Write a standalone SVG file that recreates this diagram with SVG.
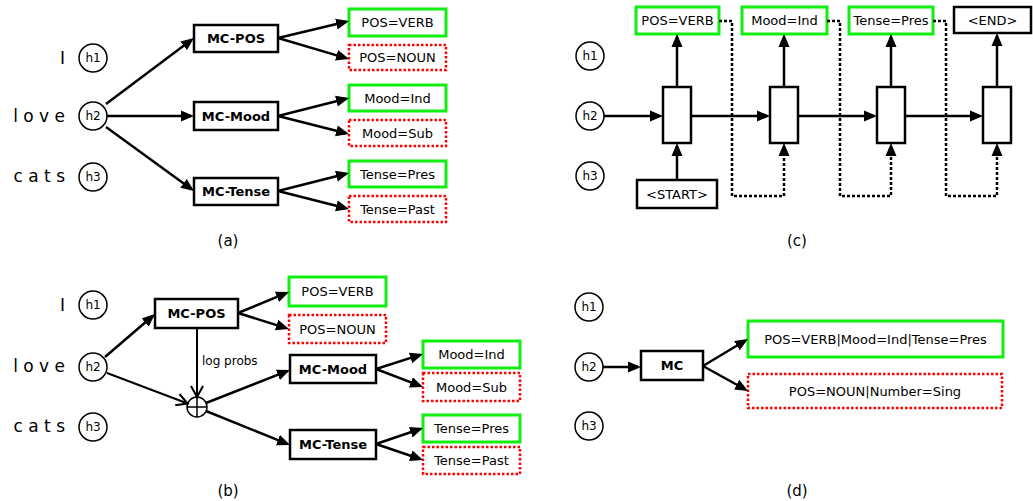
<svg xmlns="http://www.w3.org/2000/svg" width="1033" height="501" viewBox="0 0 1033 501">
<style>
text{font-family:"DejaVu Sans","Liberation Sans",sans-serif;fill:#000}
.box{fill:#fff;stroke:#000;stroke-width:2.5}
.ok{fill:#fff;stroke:#11ee11;stroke-width:3}
.bad{fill:#fff;stroke:#ff0000;stroke-width:2.5;stroke-dasharray:2.5 2}
.cell{fill:#fff;stroke:#000;stroke-width:2.5}
.h{fill:#fff;stroke:#000;stroke-width:1.5}
.ht{font-size:12px;text-anchor:middle}
.w{font-size:17px;text-anchor:end}
.t{font-size:13px;text-anchor:middle}
.b{font-size:13px;font-weight:bold;text-anchor:middle}
.cap{font-size:15px;text-anchor:middle}
.e{stroke:#000;stroke-width:2.5;fill:none;marker-end:url(#ah)}
.o{stroke:#000;stroke-width:2;fill:none;marker-end:url(#av)}
.d{stroke:#000;stroke-width:2.5;fill:none;stroke-dasharray:3 2;marker-end:url(#ah)}
</style>
<defs>
<marker id="ah" markerUnits="userSpaceOnUse" markerWidth="14" markerHeight="12" refX="10" refY="6" orient="auto"><path d="M0,0.5 L13,6 L0,11.5 z" fill="#000"/></marker>
<marker id="av" markerUnits="userSpaceOnUse" markerWidth="14" markerHeight="14" refX="12" refY="7" orient="auto"><path d="M1,1 L12,7 L1,13" fill="none" stroke="#000" stroke-width="2"/></marker>
</defs>

<!-- Panel (a) -->
<g id="a-words">
<text class="w" x="65" y="64">I</text>
<text class="w" x="65" y="122">l o v e</text>
<text class="w" x="65" y="182">c a t s</text>
</g>
<g id="a-h1"><circle class="h" cx="93" cy="58" r="14"/><text class="ht" x="93" y="62">h1</text></g>
<g id="a-h2"><circle class="h" cx="93" cy="116" r="14"/><text class="ht" x="93" y="120">h2</text></g>
<g id="a-h3"><circle class="h" cx="93" cy="177" r="14"/><text class="ht" x="93" y="181">h3</text></g>
<g id="a-mcpos"><rect class="box" x="194" y="25" width="84" height="27"/><text class="b" x="236" y="43">MC-POS</text></g>
<g id="a-mcmood"><rect class="box" x="194" y="102" width="84" height="28"/><text class="b" x="236" y="121">MC-Mood</text></g>
<g id="a-mctense"><rect class="box" x="194" y="178" width="84" height="27"/><text class="b" x="236" y="196">MC-Tense</text></g>
<g id="a-posverb"><rect class="ok" x="349" y="9" width="97" height="27"/><text class="t" x="397.5" y="27">POS=VERB</text></g>
<g id="a-posnoun"><rect class="bad" x="349" y="45" width="97" height="25"/><text class="t" x="397.5" y="62">POS=NOUN</text></g>
<g id="a-moodind"><rect class="ok" x="349" y="85" width="97" height="26"/><text class="t" x="397.5" y="103">Mood=Ind</text></g>
<g id="a-moodsub"><rect class="bad" x="349" y="120" width="97" height="26"/><text class="t" x="397.5" y="138">Mood=Sub</text></g>
<g id="a-tensepres"><rect class="ok" x="349" y="161" width="97" height="26"/><text class="t" x="397.5" y="179">Tense=Pres</text></g>
<g id="a-tensepast"><rect class="bad" x="349" y="196" width="97" height="26"/><text class="t" x="397.5" y="214">Tense=Past</text></g>
<text class="cap" x="228" y="246">(a)</text>

<!-- Panel (b) -->
<g id="b-words">
<text class="w" x="65" y="311">I</text>
<text class="w" x="65" y="372">l o v e</text>
<text class="w" x="65" y="432">c a t s</text>
</g>
<g id="b-h1"><circle class="h" cx="93" cy="305" r="14"/><text class="ht" x="93" y="309">h1</text></g>
<g id="b-h2"><circle class="h" cx="93" cy="367" r="14"/><text class="ht" x="93" y="371">h2</text></g>
<g id="b-h3"><circle class="h" cx="93" cy="427" r="14"/><text class="ht" x="93" y="431">h3</text></g>
<g id="b-mcpos"><rect class="box" x="155" y="299" width="83" height="29"/><text class="b" x="196.5" y="318">MC-POS</text></g>
<g id="b-posverb"><rect class="ok" x="289" y="277" width="97" height="29"/><text class="t" x="337.5" y="296">POS=VERB</text></g>
<g id="b-posnoun"><rect class="bad" x="289" y="315" width="97" height="28"/><text class="t" x="337.5" y="334">POS=NOUN</text></g>
<g id="b-sum"><circle cx="197" cy="407" r="10" fill="#fff" stroke="#000" stroke-width="1.5"/><path d="M187,407 H207 M197,397 V417" stroke="#000" stroke-width="1.5"/></g>
<text x="202" y="365" style="font-size:12px">log probs</text>
<g id="b-mcmood"><rect class="box" x="290" y="355" width="86" height="28"/><text class="b" x="333" y="374">MC-Mood</text></g>
<g id="b-mctense"><rect class="box" x="290" y="430" width="86" height="29"/><text class="b" x="333" y="449">MC-Tense</text></g>
<g id="b-moodind"><rect class="ok" x="423" y="341" width="97" height="27"/><text class="t" x="471.5" y="359">Mood=Ind</text></g>
<g id="b-moodsub"><rect class="bad" x="423" y="373" width="97" height="28"/><text class="t" x="471.5" y="392">Mood=Sub</text></g>
<g id="b-tensepres"><rect class="ok" x="423" y="415" width="97" height="27"/><text class="t" x="471.5" y="433">Tense=Pres</text></g>
<g id="b-tensepast"><rect class="bad" x="423" y="447" width="97" height="27"/><text class="t" x="471.5" y="465">Tense=Past</text></g>
<text class="cap" x="228" y="496">(b)</text>

<!-- Panel (c) -->
<g id="c-h1"><circle class="h" cx="590" cy="56" r="14"/><text class="ht" x="590" y="60">h1</text></g>
<g id="c-h2"><circle class="h" cx="590" cy="116" r="14"/><text class="ht" x="590" y="120">h2</text></g>
<g id="c-h3"><circle class="h" cx="590" cy="176" r="14"/><text class="ht" x="590" y="180">h3</text></g>
<g id="c-posverb"><rect class="ok" x="636" y="7" width="83" height="27"/><text class="t" x="677.5" y="25">POS=VERB</text></g>
<g id="c-moodind"><rect class="ok" x="742" y="7" width="85" height="27"/><text class="t" x="784.5" y="25">Mood=Ind</text></g>
<g id="c-tensepres"><rect class="ok" x="849" y="7" width="84" height="27"/><text class="t" x="891" y="25">Tense=Pres</text></g>
<g id="c-end"><rect class="box" x="954" y="7" width="77" height="26"/><text class="t" x="992.5" y="25">&lt;END&gt;</text></g>
<g id="c-cell1"><rect class="cell" x="663" y="87" width="28" height="56"/></g>
<g id="c-cell2"><rect class="cell" x="770" y="87" width="28" height="56"/></g>
<g id="c-cell3"><rect class="cell" x="877" y="87" width="28" height="56"/></g>
<g id="c-cell4"><rect class="cell" x="983" y="87" width="28" height="56"/></g>
<g id="c-start"><rect class="box" x="637" y="180" width="80" height="28"/><text class="t" x="677" y="199">&lt;START&gt;</text></g>
<text class="cap" x="797" y="246">(c)</text>

<!-- Panel (d) -->
<g id="d-h1"><circle class="h" cx="589" cy="307" r="14"/><text class="ht" x="589" y="311">h1</text></g>
<g id="d-h2"><circle class="h" cx="589" cy="367" r="14"/><text class="ht" x="589" y="371">h2</text></g>
<g id="d-h3"><circle class="h" cx="589" cy="426" r="14"/><text class="ht" x="589" y="430">h3</text></g>
<g id="d-mc"><rect class="box" x="641" y="351" width="62" height="29"/><text class="b" x="672" y="370">MC</text></g>
<g id="d-good"><rect class="ok" x="748" y="321" width="255" height="36"/><text class="t" x="875.5" y="344">POS=VERB|Mood=Ind|Tense=Pres</text></g>
<g id="d-bad"><rect class="bad" x="748" y="374" width="254" height="34"/><text class="t" x="875" y="396">POS=NOUN|Number=Sing</text></g>
<text class="cap" x="797" y="496">(d)</text>

<!-- Connectors -->
<g id="connectors">
<path class="e" d="M106,104 L191.6,39.8"/>
<path class="e" d="M107,116 L191,116"/>
<path class="e" d="M106,127 L191.6,189.2"/>
<path class="e" d="M278,38 L346.1,21.7"/>
<path class="e" d="M278,38 L346.1,58.1"/>
<path class="e" d="M278,116 L346.1,98.7"/>
<path class="e" d="M278,116 L346.1,133.3"/>
<path class="e" d="M278,191 L346.1,173.7"/>
<path class="e" d="M278,191 L346.1,208.3"/>

<path class="e" d="M105,357 L152.7,316"/>
<path class="o" d="M107,373 L187.6,403.5"/>
<path class="o" d="M197,328 L197,397"/>
<path class="e" d="M206,403 L287.2,371.1"/>
<path class="e" d="M206,411 L287.2,443.9"/>
<path class="e" d="M238,313 L286.2,293.1"/>
<path class="e" d="M238,313 L286.1,328.1"/>
<path class="e" d="M376,369 L420.1,354.9"/>
<path class="e" d="M376,369 L420.2,385.9"/>
<path class="e" d="M376,444 L420.2,429"/>
<path class="e" d="M376,444 L420.2,459"/>

<path class="e" d="M604,116 L660,116"/>
<path class="e" d="M691,116 L767,116"/>
<path class="e" d="M798,116 L874,116"/>
<path class="e" d="M905,116 L980,116"/>
<path class="e" d="M677,87 L677,37"/>
<path class="e" d="M784,87 L784,37"/>
<path class="e" d="M891,87 L891,37"/>
<path class="e" d="M997,87 L997,36"/>
<path class="e" d="M677,180 L677,146"/>
<path class="d" d="M719,21 H732 V196 H784 V146"/>
<path class="d" d="M827,21 H840 V196 H891 V146"/>
<path class="d" d="M933,21 H946 V196 H997 V146"/>

<path class="e" d="M603,367 L638,367"/>
<path class="e" d="M703,366 L745.4,340.5"/>
<path class="e" d="M703,366 L745.4,389.5"/>
</g>
</svg>
